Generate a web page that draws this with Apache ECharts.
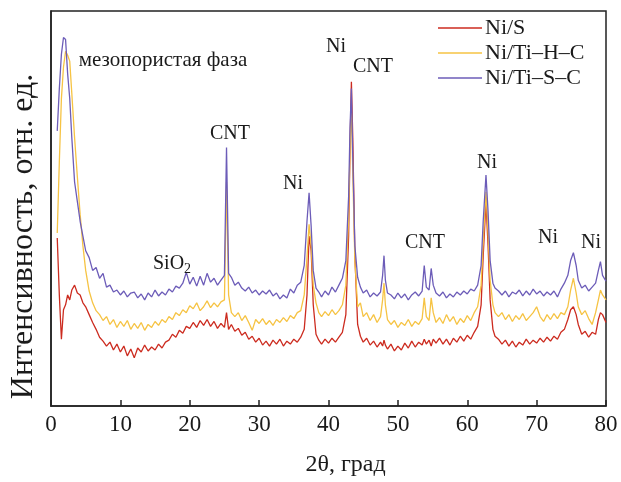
<!DOCTYPE html>
<html>
<head>
<meta charset="utf-8">
<script src="https://cdn.jsdelivr.net/npm/echarts@6/dist/echarts.min.js"></script>
<style>
  html, body { margin: 0; padding: 0; background: #fff; }
  #chart { width: 621px; height: 482px; }
</style>
</head>
<body>
<div id="chart"></div>
<script>
// 2θ, град
const theta = [
  0.9, 1.2, 1.5, 1.8, 2.1, 2.4, 2.7, 3.0, 3.4, 3.8,
  4.2, 4.6, 5.0, 5.5, 6.0, 6.5, 7.0, 7.5, 8.0, 8.5,
  9.0, 9.5, 10.0, 10.5, 11.0, 11.5, 12.0, 12.5, 13.0, 13.5,
  14.0, 14.5, 15.0, 15.5, 16.0, 16.5, 17.0, 17.5, 18.0, 18.5,
  19.0, 19.5, 20.0, 20.5, 21.0, 21.5, 22.0, 22.5, 23.0, 23.5,
  24.0, 24.5, 25.0, 25.3, 25.6, 26.0, 26.5, 27.0, 27.5, 28.0,
  28.5, 29.0, 29.5, 30.0, 30.5, 31.0, 31.5, 32.0, 32.5, 33.0,
  33.5, 34.0, 34.5, 35.0, 35.5, 36.0, 36.5, 36.9, 37.2, 37.5,
  37.8, 38.2, 38.6, 39.0, 39.5, 40.0, 40.5, 41.0, 41.5, 42.0,
  42.5, 42.9, 43.1, 43.3, 43.5, 43.8, 44.2, 44.6, 45.0, 45.5,
  46.0, 46.5, 47.0, 47.5, 47.8, 48.0, 48.2, 48.5, 49.0, 49.5,
  50.0, 50.5, 51.0, 51.5, 52.0, 52.5, 53.0, 53.5, 53.8, 54.1,
  54.5, 54.8, 55.1, 55.5, 56.0, 56.5, 57.0, 57.5, 58.0, 58.5,
  59.0, 59.5, 60.0, 60.5, 61.0, 61.5, 62.0, 62.3, 62.7, 63.0,
  63.3, 63.7, 64.0, 64.5, 65.0, 65.5, 66.0, 66.5, 67.0, 67.5,
  68.0, 68.5, 69.0, 69.5, 70.0, 70.5, 71.0, 71.5, 72.0, 72.5,
  73.0, 73.5, 74.0, 74.5, 74.9, 75.3, 75.7, 76.0, 76.5, 77.0,
  77.5, 78.0, 78.5, 78.9, 79.2, 79.5, 80.0
];

// intensities, arb. units (curves are offset as in the figure)
const niS = [
  171, 113, 68, 98, 103, 113, 108, 118, 123, 115,
  113, 105, 101, 93, 85, 78, 70, 66, 61, 65,
  57, 63, 55, 61, 51, 58, 49, 59, 55, 62,
  56, 60, 57, 63, 59, 65, 67, 73, 70, 77,
  74, 81, 79, 85, 80, 87, 82, 88, 81, 86,
  79, 84, 80, 95, 78, 83, 76, 79, 72, 75,
  68, 71, 65, 69, 62, 66, 61, 67, 63, 68,
  61, 66, 63, 68, 65, 70, 78, 113, 173, 158,
  103, 73, 67, 63, 68, 64, 69, 65, 70, 75,
  93, 173, 263, 330, 273, 153, 83, 71, 65, 69,
  62, 66, 60, 65, 61, 67, 62, 58, 63, 56,
  61, 57, 64, 59, 66, 60, 65, 62, 68, 63,
  67, 61, 68, 64, 69, 63, 68, 62, 69, 65,
  71, 66, 72, 68, 75, 81, 103, 153, 208, 163,
  108, 78, 71, 68, 63, 67, 61, 66, 60, 65,
  62, 68, 63, 67, 64, 69, 65, 70, 66, 71,
  68, 75, 78, 88, 98, 101, 93, 83, 73, 76,
  70, 75, 73, 88, 95, 93, 85
];
const niTiHC = [
  176, 248, 313, 345, 361, 357, 351, 318, 273, 233,
  195, 163, 138, 117, 105, 97, 93, 87, 91, 83,
  88, 80, 86, 81, 87, 78, 84, 79, 85, 77,
  83, 80, 86, 82, 88, 85, 91, 88, 95, 92,
  98, 95, 102, 99, 105, 97, 101, 107, 100, 105,
  101, 106, 108, 228, 113, 95, 91, 95, 87, 92,
  85, 77, 88, 84, 89, 83, 87, 82, 88, 85,
  90, 86, 92, 89, 95, 97, 113, 151, 185, 163,
  123, 105, 95, 91, 96, 92, 98, 93, 97, 103,
  123, 193, 263, 303, 238, 148, 101, 105, 91, 95,
  87, 93, 85, 91, 108, 125, 103, 88, 83, 87,
  80, 85, 82, 88, 81, 86, 83, 89, 110, 91,
  87, 110, 95, 85, 90, 84, 93, 86, 91, 83,
  89, 85, 92, 87, 95, 101, 123, 168, 218, 178,
  128, 103, 95, 91, 95, 88, 93, 86, 92, 88,
  94, 87, 91, 95, 101, 91, 86, 93, 88, 94,
  89, 95, 93, 101, 118, 130, 115, 101, 93, 97,
  89, 83, 95, 108, 118, 113, 108
];
const niTiSC = [
  280, 323, 358, 375, 373, 338, 313, 273, 228, 208,
  188, 173, 158, 151, 138, 141, 130, 135, 121, 123,
  116, 118, 113, 117, 111, 115, 116, 110, 114, 108,
  115, 111, 118, 112, 116, 113, 119, 116, 122, 120,
  125, 136, 124, 131, 122, 132, 123, 135, 126, 130,
  123, 128, 133, 263, 135, 131, 123, 126, 120, 117,
  121, 115, 118, 113, 117, 114, 118, 112, 115, 109,
  113, 110, 119, 115, 123, 126, 143, 188, 217, 183,
  138, 120, 116, 111, 117, 113, 121, 116, 123, 130,
  148, 213, 283, 323, 253, 163, 131, 121, 115, 118,
  111, 115, 112, 116, 133, 153, 128, 115, 113, 109,
  115, 110, 114, 108, 113, 116, 112, 117, 143, 121,
  118, 140, 123, 115, 112, 116, 110, 114, 111, 116,
  113, 117, 114, 119, 117, 123, 143, 188, 235, 198,
  148, 125, 120, 117, 113, 117, 111, 116, 114, 118,
  112, 117, 113, 119, 114, 117, 112, 116, 113, 117,
  111, 119, 125, 133, 148, 156, 143, 128, 120, 123,
  117, 121, 125, 138, 147, 133, 127
];

const seriesNames = ['Ni/S', 'Ni/Ti–H–C', 'Ni/Ti–S–C'];
const seriesColors = ['#cc2b1f', '#f6c343', '#6c5cb8'];
const seriesValues = [niS, niTiHC, niTiSC];

const serif = 'Liberation Serif';

const chart = echarts.init(document.getElementById('chart'));

const series = seriesValues.map((vals, k) => ({
  name: seriesNames[k],
  type: 'line',
  symbol: 'none',
  lineStyle: { color: seriesColors[k], width: 1.3 },
  itemStyle: { color: seriesColors[k] },
  data: theta.map((t, i) => [t, vals[i]])
}));

// peak labels
const notes = [
  { text: 'мезопористая фаза', x: 163, y: 60, size: 21 },
  { text: 'CNT', x: 230, y: 134, size: 20 },
  { text: 'Ni', x: 293, y: 184, size: 20 },
  { text: 'Ni', x: 336, y: 47, size: 20 },
  { text: 'CNT', x: 373, y: 67, size: 20 },
  { text: 'CNT', x: 425, y: 243, size: 20 },
  { text: 'Ni', x: 487, y: 163, size: 20 },
  { text: 'Ni', x: 548, y: 238, size: 20 },
  { text: 'Ni', x: 591, y: 243, size: 20 }
];

const graphic = notes.map(n => ({
  type: 'text',
  x: n.x,
  y: n.y,
  z: 100,
  style: {
    text: n.text,
    font: n.size + 'px "' + serif + '"',
    fill: '#1a1a1a',
    align: 'center',
    verticalAlign: 'middle'
  }
}));
graphic.push({
  type: 'text',
  x: 153,
  y: 252,
  z: 100,
  style: {
    text: '{a|SiO}{b|2}',
    fill: '#1a1a1a',
    rich: {
      a: { fontFamily: serif, fontSize: 20, fill: '#1a1a1a' },
      b: { fontFamily: serif, fontSize: 14, fill: '#1a1a1a', padding: [10, 0, 0, 0] }
    }
  }
});

chart.setOption({
  animation: false,
  backgroundColor: '#fff',
  grid: {
    left: 50, right: 15, top: 11, bottom: 69,
    show: true, borderColor: '#222', borderWidth: 1.5
  },
  legend: {
    orient: 'vertical',
    left: 438,
    top: 17,
    icon: 'rect',
    itemWidth: 44,
    itemHeight: 1.5,
    itemGap: 3,
    padding: 0,
    data: seriesNames,
    textStyle: { fontFamily: serif, fontSize: 22, color: '#1a1a1a', padding: [0, 0, 0, -2] }
  },
  xAxis: {
    type: 'value',
    min: 0,
    max: 80,
    interval: 10,
    name: '2θ, град',
    nameLocation: 'middle',
    nameGap: 47,
    nameTextStyle: { fontFamily: serif, fontSize: 24, color: '#1a1a1a', padding: [0, 0, 0, 34] },
    axisLine: { show: true, lineStyle: { color: '#222', width: 1.5 } },
    axisTick: { inside: true, length: 6, lineStyle: { color: '#222', width: 1.5 } },
    axisLabel: { fontFamily: serif, fontSize: 23, color: '#1a1a1a', margin: 7 },
    splitLine: { show: false }
  },
  yAxis: {
    type: 'value',
    min: 0,
    max: 402,
    name: 'Интенсивность, отн. ед.',
    nameLocation: 'middle',
    nameGap: 11,
    nameTextStyle: { fontFamily: serif, fontSize: 32, color: '#1a1a1a', padding: [0, 56, 0, 0] },
    axisLine: { show: true, lineStyle: { color: '#222', width: 1.5 } },
    axisTick: { show: false },
    axisLabel: { show: false },
    splitLine: { show: false }
  },
  graphic: graphic,
  series: series
});
</script>
</body>
</html>
